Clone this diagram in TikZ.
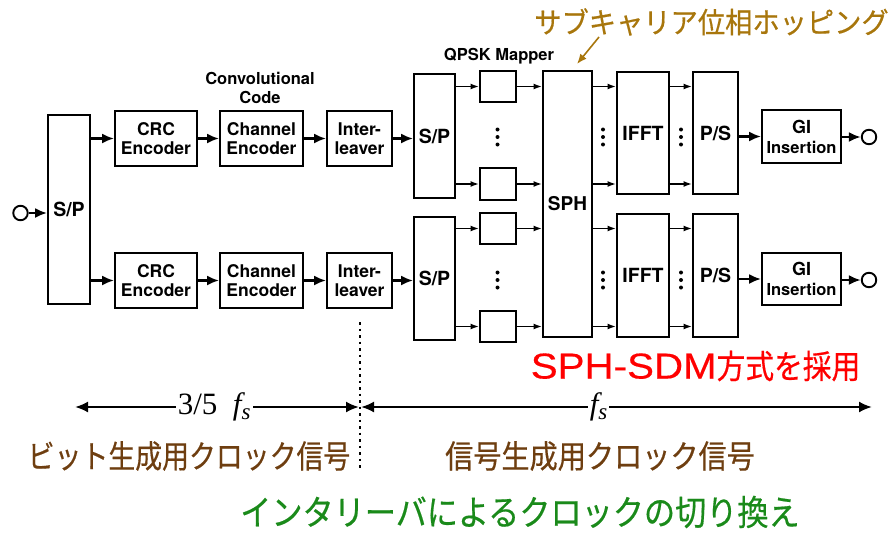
\documentclass[tikz,border=0pt]{standalone}
\usepackage{fontspec}
\setmainfont{TeX Gyre Heros}
\newfontfamily\jp[FakeBold=0.5]{Noto Sans CJK JP}
\newfontfamily\lsans[FakeBold=0.4]{Liberation Sans}
\newfontfamily\tm{Liberation Serif}
\usetikzlibrary{arrows.meta}
\definecolor{gold}{RGB}{168,118,12}
\definecolor{brn}{RGB}{110,62,16}
\definecolor{grn}{RGB}{26,138,26}
\begin{document}
\begin{tikzpicture}[x=1pt,y=-1pt,
  blk/.style={draw, line width=1.9pt, inner sep=0pt, align=center,
    font=\fontsize{17.5}{19}\selectfont\bfseries},
  big/.style={font=\fontsize{19.5}{19}\selectfont\bfseries},
  arr/.style={line width=2.1pt, -{Latex[length=12pt,width=10pt]}},
  sarr/.style={line width=1.6pt, -{Latex[length=8.5pt,width=6pt]}},
  term/.style={draw, circle, line width=1.9pt, minimum size=14.5pt, inner sep=0pt},
  lbl/.style={inner sep=0pt, align=center, font=\fontsize{16.5}{19}\selectfont\bfseries},
  jtxt/.style={inner sep=0pt},
  dotl/.style={line width=2.5pt, dash pattern=on 2.5pt off 4pt},
  dimarr/.style={line width=2.1pt, {Latex[length=13pt,width=11pt]}-{Latex[length=13pt,width=11pt]}}
]
\useasboundingbox (0,0) rectangle (890,533);

% input
\node[term] (in) at (20.5,213) {};
\node[blk, big, minimum width=42pt, minimum height=189pt] (sp0) at (69,209.5) {S/P};
\draw[arr] (in) -- (in -| sp0.west);

% rows of encoders
\foreach \r/\y in {a/138.5, b/280.5} {
  \node[blk, minimum width=82pt, minimum height=55pt] (crc\r) at (156,\y) {CRC\\Encoder};
  \node[blk, minimum width=83pt, minimum height=55pt] (ch\r) at (261.5,\y) {Channel\\Encoder};
  \node[blk, minimum width=65pt, minimum height=55pt] (il\r) at (359.5,\y) {Inter-\\leaver};
  \draw[arr] (sp0.east |- crc\r.west) -- (crc\r.west);
  \draw[arr] (crc\r) -- (ch\r);
  \draw[arr] (ch\r) -- (il\r);
}
\node[lbl] (conv) at (260,88) {Convolutional\\Code};

% second S/P
\node[blk, big, minimum width=41pt, minimum height=124pt] (spa) at (434.5,136) {S/P};
\node[blk, big, minimum width=41pt, minimum height=123pt] (spb) at (434.5,278.5) {S/P};
\draw[arr] (ila.east) -- (ila.east -| spa.west);
\draw[arr] (ilb.east) -- (ilb.east -| spb.west);

% QPSK mappers
\node[lbl] (qpsk) at (499,56) {QPSK Mapper};
\node[blk, minimum width=36pt, minimum height=31pt] (m1) at (498,86.5) {};
\node[blk, minimum width=36pt, minimum height=32pt] (m2) at (498,184) {};
\node[blk, minimum width=36pt, minimum height=31pt] (m3) at (498,228.5) {};
\node[blk, minimum width=36pt, minimum height=31pt] (m4) at (498,326.5) {};

% SPH
\node[blk, minimum width=49pt, minimum height=266pt, font=\fontsize{19}{19}\selectfont\bfseries] (sph) at (567.5,204) {SPH};

% IFFT and P/S
\node[blk, big, minimum width=52pt, minimum height=122pt] (ifa) at (643,133) {IFFT};
\node[blk, big, minimum width=52pt, minimum height=123pt] (ifb) at (643,275.5) {IFFT};
\node[blk, big, minimum width=45pt, minimum height=122pt] (psa) at (715.5,133) {P/S};
\node[blk, big, minimum width=45pt, minimum height=123pt] (psb) at (715.5,275.5) {P/S};

\draw[sarr] (spa.east |- m1.west) -- (m1.west);
\draw[sarr] (spa.east |- m2.west) -- (m2.west);
\draw[sarr] (spb.east |- m3.west) -- (m3.west);
\draw[sarr] (spb.east |- m4.west) -- (m4.west);
\foreach \m in {m1,m2,m3,m4} {
  \draw[sarr] (\m.east) -- (\m.east -| sph.west);
}
\draw[sarr] (sph.east |- m1.east) -- (ifa.west |- m1.east);
\draw[sarr] (sph.east |- m2.east) -- (ifa.west |- m2.east);
\draw[sarr] (sph.east |- m3.east) -- (ifb.west |- m3.east);
\draw[sarr] (sph.east |- m4.east) -- (ifb.west |- m4.east);
\draw[sarr] (ifa.east |- m1.east) -- (psa.west |- m1.east);
\draw[sarr] (ifa.east |- m2.east) -- (psa.west |- m2.east);
\draw[sarr] (ifb.east |- m3.east) -- (psb.west |- m3.east);
\draw[sarr] (ifb.east |- m4.east) -- (psb.west |- m4.east);

% vertical ellipses
\foreach \x in {497.5,603,681} {
  \foreach \y in {129.5,137,144.5,272.5,280,287.5} {
    \fill (\x,\y) circle (2pt);
  }
}

% GI insertion
\node[blk, minimum width=79pt, minimum height=53pt, font=\fontsize{16.5}{20}\selectfont\bfseries] (gia) at (801.5,136.5) {{\fontsize{18}{20}\selectfont GI}\\Insertion};
\node[blk, minimum width=79pt, minimum height=52pt, font=\fontsize{16.5}{20}\selectfont\bfseries] (gib) at (801.5,279) {{\fontsize{18}{20}\selectfont GI}\\Insertion};
\node[term] (outa) at (869,137) {};
\node[term] (outb) at (869,280) {};
\draw[arr] (psa.east |- gia.west) -- (gia.west);
\draw[arr] (psb.east |- gib.west) -- (gib.west);
\draw[arr] (gia.east |- outa) -- (outa.west);
\draw[arr] (gib.east |- outb) -- (outb.west);

% annotation top
\node[jtxt, text=gold, font=\jp\fontsize{29}{29}\selectfont] (sphlbl) at (711.5,22) {\scalebox{0.94}[1]{サブキャリア位相ホッピング}};
\coordinate (ga) at (599,37);
\coordinate (gb) at (577,64);
\draw[gold, line width=1.6pt, -{Latex[length=10pt,width=8pt]}] (ga) -- (gb);

% red label
\node[jtxt, text=red] (sdm) at (695.5,366) {\scalebox{1.12}[1]{\lsans\fontsize{36}{36}\selectfont SPH-SDM}\scalebox{0.87}[1]{\jp\fontsize{33}{34}\selectfont 方式を採用}};

% clock dividers
\coordinate (dv1) at (360,322);
\coordinate (dv2) at (360,468);
\draw[dotl] (dv1) -- (dv2);
\coordinate (aL) at (75,407);
\coordinate (aM1) at (359,407);
\coordinate (aM2) at (361,407);
\coordinate (aR) at (872,407);
\draw[dimarr] (aL) -- node[pos=0.49, fill=white, inner sep=2pt, font=\tm\fontsize{31}{31}\selectfont] (f1) {3/5\,\,\,\textit{f\raisebox{-0.35ex}{\fontsize{23}{23}\selectfont s}}} (aM1);
\draw[dimarr] (aM2) -- node[pos=0.465, fill=white, inner sep=2pt, font=\tm\fontsize{31}{31}\selectfont] (f2) {\textit{f\raisebox{-0.35ex}{\fontsize{23}{23}\selectfont s}}} (aR);

\node[jtxt, text=brn, font=\jp\fontsize{32}{32}\selectfont] (bitclk) at (189,456) {\scalebox{0.84}[1]{ビット生成用クロック信号}};
\node[jtxt, text=brn, font=\jp\fontsize{32}{32}\selectfont] (sigclk) at (600,456) {\scalebox{0.88}[1]{信号生成用クロック信号}};
\node[jtxt, text=grn, font=\jp\fontsize{35}{35}\selectfont] (swclk) at (520,512) {\scalebox{0.89}[1]{インタリーバによるクロックの切り換え}};
\end{tikzpicture}
\end{document}
